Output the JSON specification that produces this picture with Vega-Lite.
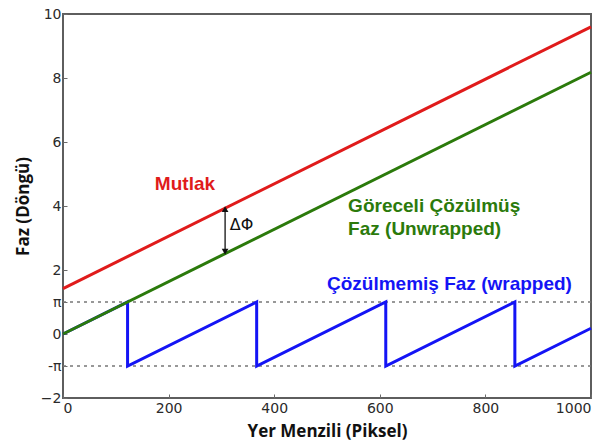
{
  "$schema": "https://vega.github.io/schema/vega-lite/v6.json",
  "width": 528,
  "height": 384,
  "autosize": "none",
  "padding": {"left": 63, "top": 14, "right": 20, "bottom": 48},
  "background": "white",
  "config": {
    "view": {"stroke": "#5e5e5e", "strokeWidth": 2},
    "axis": {
      "grid": false,
      "domain": false,
      "tickColor": "#6b6b6b",
      "tickSize": -4,
      "tickWidth": 1,
      "labelFont": "DejaVu Sans",
      "labelFontSize": 14,
      "labelColor": "#2a2a2a",
      "titleFont": "Open Sans",
      "titleFontWeight": "bold",
      "titleFontSize": 17,
      "titleColor": "#111111"
    }
  },
  "datasets": {
    "phase": [
      {"seri": "wrapped", "ord": 0, "piksel": 0, "faz": 0},
      {"seri": "wrapped", "ord": 1, "piksel": 122.3, "faz": 1},
      {"seri": "wrapped", "ord": 2, "piksel": 122.3, "faz": -1},
      {"seri": "wrapped", "ord": 3, "piksel": 366.8, "faz": 1},
      {"seri": "wrapped", "ord": 4, "piksel": 366.8, "faz": -1},
      {"seri": "wrapped", "ord": 5, "piksel": 611.3, "faz": 1},
      {"seri": "wrapped", "ord": 6, "piksel": 611.3, "faz": -1},
      {"seri": "wrapped", "ord": 7, "piksel": 855.8, "faz": 1},
      {"seri": "wrapped", "ord": 8, "piksel": 855.8, "faz": -1},
      {"seri": "wrapped", "ord": 9, "piksel": 1000, "faz": 0.18},
      {"seri": "unwrapped", "ord": 0, "piksel": 0, "faz": 0},
      {"seri": "unwrapped", "ord": 1, "piksel": 1000, "faz": 8.18},
      {"seri": "mutlak", "ord": 0, "piksel": 0, "faz": 1.42},
      {"seri": "mutlak", "ord": 1, "piksel": 1000, "faz": 9.6}
    ],
    "bounds": [{"faz": 1}, {"faz": -1}],
    "notes": [
      {"seri": "mutlak", "metin": "Mutlak", "piksel": 174, "faz": 4.5},
      {"seri": "unwrapped", "metin": "Göreceli Çözülmüş", "piksel": 540, "faz": 3.81},
      {"seri": "unwrapped", "metin": "Faz (Unwrapped)", "piksel": 540, "faz": 3.09},
      {"seri": "wrapped", "metin": "Çözülmemiş Faz (wrapped)", "piksel": 500, "faz": 1.375}
    ],
    "delta": [
      {"piksel": 307, "ust": 3.9, "alt": 2.57, "metin": "ΔΦ", "orta": 3.4, "etiketX": 316}
    ]
  },
  "encoding": {
    "x": {
      "field": "piksel",
      "type": "quantitative",
      "scale": {"domain": [0, 1000], "nice": false},
      "axis": {"title": "Yer Menzili (Piksel)", "values": [0, 200, 400, 600, 800, 1000], "format": "d", "labelPadding": 7, "titlePadding": 8}
    },
    "y": {
      "field": "faz",
      "type": "quantitative",
      "scale": {"domain": [-2, 10], "nice": false},
      "axis": {
        "title": "Faz (Döngü)",
        "values": [-2, -1, 0, 1, 2, 4, 6, 8, 10],
        "labelExpr": "datum.value == 1 ? 'π' : datum.value == -1 ? '-π' : datum.label",
        "labelPadding": 6,
        "titlePadding": 8
      }
    }
  },
  "layer": [
    {
      "data": {"name": "bounds"},
      "mark": {"type": "rule", "color": "#777777", "strokeWidth": 1.5, "strokeDash": [3, 4]},
      "encoding": {"y": {"field": "faz", "type": "quantitative"}, "x": null}
    },
    {
      "data": {"name": "phase"},
      "mark": {"type": "line", "strokeWidth": 3, "strokeCap": "butt", "strokeJoin": "miter"},
      "encoding": {
        "detail": {"field": "seri"},
        "order": {"field": "ord", "type": "quantitative"},
        "color": {
          "field": "seri",
          "type": "nominal",
          "scale": {"domain": ["wrapped", "unwrapped", "mutlak"], "range": ["#1414f5", "#2b7a0b", "#e01b1b"]},
          "legend": null
        }
      }
    },
    {
      "data": {"name": "notes"},
      "mark": {"type": "text", "align": "left", "baseline": "alphabetic", "font": "Liberation Sans", "fontWeight": "bold", "fontSize": 19},
      "encoding": {
        "text": {"field": "metin"},
        "color": {
          "field": "seri",
          "type": "nominal",
          "scale": {"domain": ["wrapped", "unwrapped", "mutlak", "x"], "range": ["#1a1af0", "#3f6e06", "#d81e1e", "#000000"]},
          "legend": null
        }
      }
    },
    {
      "data": {"name": "delta"},
      "mark": {"type": "rule", "color": "#111111", "strokeWidth": 1.3},
      "encoding": {"y": {"field": "ust", "type": "quantitative"}, "y2": {"field": "alt"}}
    },
    {
      "data": {"name": "delta"},
      "mark": {"type": "point", "shape": "triangle-up", "filled": true, "color": "#111111", "size": 45, "opacity": 1},
      "encoding": {"y": {"field": "ust", "type": "quantitative"}}
    },
    {
      "data": {"name": "delta"},
      "mark": {"type": "point", "shape": "triangle-down", "filled": true, "color": "#111111", "size": 45, "opacity": 1},
      "encoding": {"y": {"field": "alt", "type": "quantitative"}}
    },
    {
      "data": {"name": "delta"},
      "mark": {"type": "text", "align": "left", "baseline": "middle", "font": "DejaVu Sans", "fontSize": 16, "color": "#111111"},
      "encoding": {
        "x": {"field": "etiketX", "type": "quantitative"},
        "y": {"field": "orta", "type": "quantitative"},
        "text": {"field": "metin"}
      }
    }
  ]
}
